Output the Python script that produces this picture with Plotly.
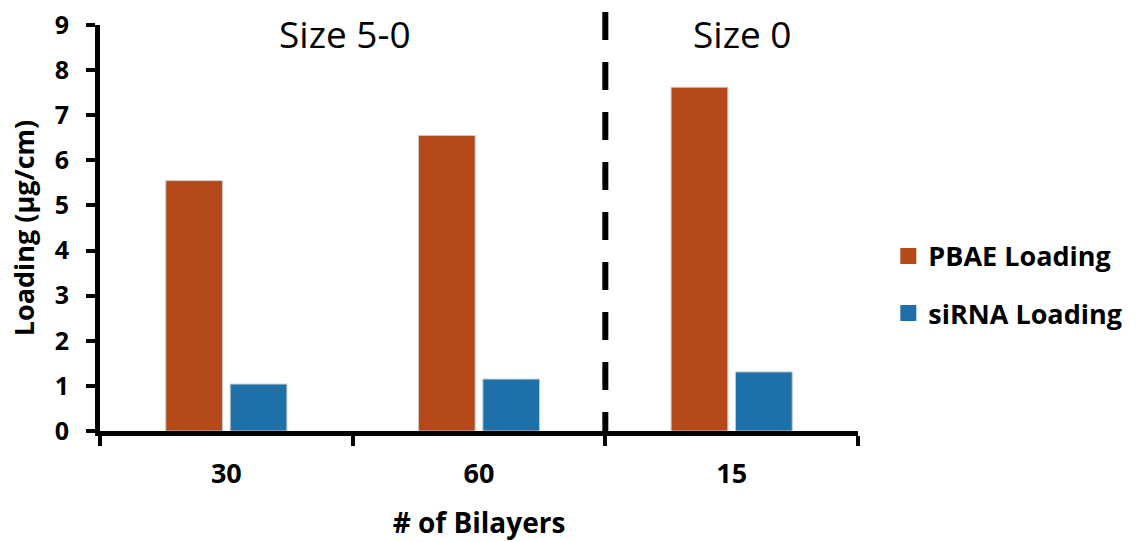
import plotly.graph_objects as go

# Loading per layer count
bilayers = ["30", "60", "15"]
pbae_loading = [5.55, 6.55, 7.62]
sirna_loading = [1.04, 1.15, 1.31]

series_names = ["PBAE Loading", "siRNA Loading"]
colors = ["#B54919", "#1E70A8"]

y_ticks = list(range(0, 10))

font_family = "Open Sans, Noto Sans, sans-serif"

fig = go.Figure()

for name, vals, col in zip(series_names, [pbae_loading, sirna_loading], colors):
    fig.add_trace(go.Bar(
        x=bilayers, y=vals, name=name,
        marker=dict(color=col, line=dict(color="#C8C8C8", width=1)),
        showlegend=False,
    ))

# legend entries with larger square swatches
for i, (name, col) in enumerate(zip(series_names, colors)):
    fig.add_trace(go.Scatter(
        x=[None], y=[None], mode="markers", name=name,
        marker=dict(symbol="square", size=18, color=col),
        legendgroup=f"g{i}",
    ))

# divider between size groups
fig.add_shape(
    type="line", xref="x", yref="paper",
    x0=1.5, x1=1.5, y0=1.032, y1=0,
    line=dict(color="black", width=6, dash="28px,22px"),
)

for label, xpos in [("Size 5-0", 0.323), ("Size 0", 0.847)]:
    fig.add_annotation(text=label, xref="paper", yref="paper",
                       x=xpos, y=0.98, xanchor="center", yanchor="middle",
                       showarrow=False,
                       font=dict(size=37, color="black", family=font_family))

fig.update_layout(
    width=1138, height=542,
    margin=dict(l=100, r=280, t=25, b=111, autoexpand=False),
    paper_bgcolor="white", plot_bgcolor="white",
    barmode="group", bargap=0.49, bargroupgap=0.12,
    font=dict(family=font_family, color="black"),
    legend=dict(
        x=1.04, y=0.36, xanchor="left", yanchor="middle",
        font=dict(size=27, family=font_family, color="black", weight="bold"),
        traceorder="grouped", tracegroupgap=19, itemsizing="trace",
        bgcolor="rgba(0,0,0,0)",
    ),
    xaxis=dict(
        type="category", categoryorder="array", categoryarray=bilayers,
        range=[-0.5, 2.5],
        showline=True, linecolor="black", linewidth=5,
        ticks="outside", tickson="boundaries", ticklen=10, tickwidth=4, tickcolor="black",
        tickfont=dict(size=27, weight="bold", color="black"),
        ticklabelstandoff=15,
        title=dict(text="# of Bilayers", font=dict(size=28, weight="bold", color="black"), standoff=24),
        showgrid=False, zeroline=False,
    ),
    yaxis=dict(
        range=[0, 9], tickvals=y_ticks,
        showline=True, linecolor="black", linewidth=5,
        ticks="outside", ticklen=9, tickwidth=4, tickcolor="black",
        tickfont=dict(size=25, weight="bold", color="black"),
        ticklabelstandoff=12,
        title=dict(text="Loading (µg/cm)", font=dict(size=27, weight="bold", color="black"), standoff=14),
        showgrid=False, zeroline=False,
    ),
)

fig.write_html("out.html")
